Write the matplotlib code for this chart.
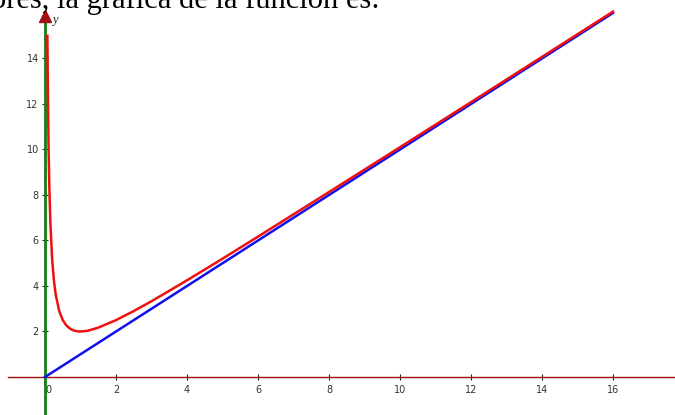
"""
Gráfica de f(x) con su asíntota oblicua y = x.
"""
import matplotlib
matplotlib.use("Agg")
import matplotlib.pyplot as plt

# curve (red)
curve_x = [0.067, 0.08, 0.1, 0.12, 0.15, 0.2, 0.25, 0.3, 0.4, 0.5, 0.6, 0.7,
           0.8, 0.9, 1.0, 1.2, 1.5, 2.0, 2.5, 3.0, 4.0, 5.0, 6.0, 8.0, 10.0,
           12.0, 14.0, 16.0]
curve_y = [15.0, 12.6, 10.1, 8.45, 6.82, 5.2, 4.25, 3.63, 2.9, 2.5, 2.27, 2.13,
           2.05, 2.01, 2.0, 2.03, 2.17, 2.5, 2.9, 3.33, 4.25, 5.2, 6.17, 8.13,
           10.1, 12.08, 14.07, 16.06]

# asymptote (blue)
asym_x = [0, 16]
asym_y = [0, 16]

xticks = [0, 2, 4, 6, 8, 10, 12, 14, 16]
yticks = [2, 4, 6, 8, 10, 12, 14]

AXIS = "#a01010"
TICKTXT = "#333333"

fig = plt.figure(figsize=(6.75, 4.15), dpi=100)
ax = fig.add_axes([0, 0, 1, 1])
ax.set_xlim(-1.268, 17.746)
ax.set_ylim(-1.67, 16.57)

for s in ("top", "right"):
    ax.spines[s].set_visible(False)
ax.spines["left"].set_position(("data", 0))
ax.spines["bottom"].set_position(("data", 0))
ax.spines["left"].set_color(AXIS)
ax.spines["bottom"].set_color(AXIS)
ax.spines["bottom"].set_linewidth(1.0)
ax.spines["bottom"].set_bounds(-1.04, 17.746)
ax.spines["left"].set_bounds(-1.67, 15.9)

ax.set_xticks(xticks)
ax.set_yticks(yticks)
ax.set_xticklabels([str(v) for v in xticks])
ax.set_yticklabels([str(v) for v in yticks])
ax.tick_params(direction="inout", length=5, width=0.8, color="#222222",
               labelsize=7, labelcolor=TICKTXT, pad=3)
for lbl in ax.get_xticklabels():
    if lbl.get_text() == "0":
        lbl.set_horizontalalignment("left")
ax.tick_params(axis="y", pad=2)

# vertical asymptote x = 0 in green over the y axis, up to the arrow head
ax.axvline(0, ymax=0.955, color="#108010", lw=2.0, zorder=3)
# arrow head of y axis
ax.plot([0], [15.85], marker="^", markersize=8, color=AXIS, zorder=4,
        clip_on=False)
ax.text(0.2, 15.55, "y", fontsize=9, style="italic", family="Liberation Serif",
        color="#222222")

ax.plot(asym_x, asym_y, color="#1010f0", lw=1.8, zorder=4)
ax.plot(curve_x, curve_y, color="#f01010", lw=1.8, zorder=5)

fig.text(-0.014, 1 - 8 / 415, "ores, la gráfica de la función es:",
         family="Liberation Serif", fontsize=22, va="baseline", ha="left",
         color="black")

fig.savefig("out.png", dpi=100)
